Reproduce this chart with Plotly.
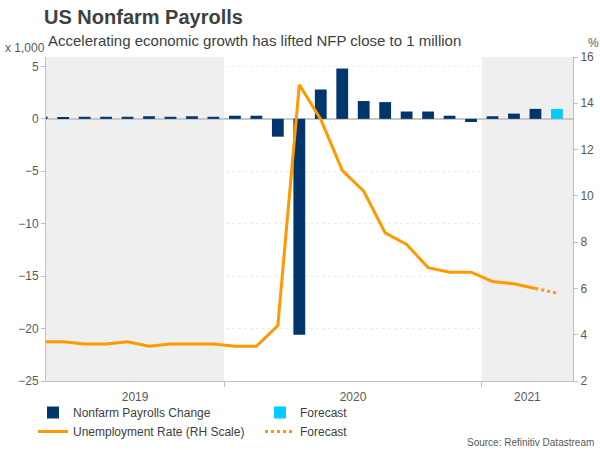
import plotly.graph_objects as go

# monthly data, Apr 2019 - Apr 2021 (last month = forecast)
months = ["Apr 19", "May 19", "Jun 19", "Jul 19", "Aug 19", "Sep 19", "Oct 19", "Nov 19", "Dec 19",
          "Jan 20", "Feb 20", "Mar 20", "Apr 20", "May 20", "Jun 20", "Jul 20", "Aug 20", "Sep 20",
          "Oct 20", "Nov 20", "Dec 20", "Jan 21", "Feb 21", "Mar 21", "Apr 21"]

# nonfarm payrolls change, thousands / 1,000
nfp = [0.2, 0.1, 0.2, 0.2, 0.2, 0.25, 0.2, 0.25, 0.2,
       0.3, 0.3, -1.7, -20.6, 2.8, 4.8, 1.7, 1.6, 0.7,
       0.7, 0.3, -0.3, 0.25, 0.5, 0.95]
nfp_forecast = [0.95]

# unemployment rate, %
unemp = [3.7, 3.7, 3.6, 3.6, 3.7, 3.5, 3.6, 3.6, 3.6,
         3.5, 3.5, 4.4, 14.8, 13.3, 11.1, 10.2, 8.4, 7.9,
         6.9, 6.7, 6.7, 6.3, 6.2, 6.0]
unemp_forecast = [6.0, 5.8]

years = ["2019", "2020", "2021"]

x_idx = list(range(len(months)))
n_act = len(nfp)

navy = "#00366c"
cyan = "#00ccff"
orange = "#ff9900"
grey_txt = "#595959"
axis_col = "#bfbfbf"

fig = go.Figure()

fig.add_trace(go.Bar(
    x=x_idx[:n_act], y=nfp, name="Nonfarm Payrolls Change",
    marker=dict(color=navy, line=dict(width=0)), width=0.55
))
fig.add_trace(go.Bar(
    x=x_idx[n_act:], y=nfp_forecast, name="Forecast",
    marker=dict(color=cyan, line=dict(width=0)), width=0.55
))
fig.add_trace(go.Scatter(
    x=x_idx[:len(unemp)], y=unemp, name="Unemployment Rate (RH Scale)",
    mode="lines", line=dict(color=orange, width=3), yaxis="y2"
))
fig.add_trace(go.Scatter(
    x=x_idx[len(unemp) - 1:], y=unemp_forecast, name="Forecast",
    mode="lines", line=dict(color=orange, width=3, dash="dot"), yaxis="y2"
))

# year boundaries (between Dec and Jan)
b1 = months.index("Jan 20") - 0.5
b2 = months.index("Jan 21") - 0.5
x_lo, x_hi = 0.2, 24.75

# shaded 2019 and 2021 blocks
for x0, x1 in [(x_lo, b1), (b2, x_hi)]:
    fig.add_shape(type="rect", xref="x", yref="paper", x0=x0, x1=x1, y0=0, y1=1,
                  fillcolor="#efefef", line=dict(width=0), layer="below")

# plot box in pixels: left 46, right 573, top 57, bottom 381
pw, ph = 527, 324

fig.update_layout(
    width=600, height=450,
    margin=dict(l=46, r=27, t=57, b=69, autoexpand=False),
    paper_bgcolor="white", plot_bgcolor="white",
    font=dict(family="Liberation Sans, Arial, sans-serif", size=12, color=grey_txt),
    barmode="overlay",
    title=dict(text="<b>US Nonfarm Payrolls</b>", x=44 / 600, xanchor="left",
               y=1 - 16.5 / 450, yanchor="middle",
               font=dict(size=20, color="#404040")),
    xaxis=dict(
        range=[x_lo, x_hi], automargin=False,
        tickmode="array",
        tickvals=[(x_lo + b1) / 2, (b1 + b2) / 2, (b2 + x_hi) / 2],
        ticktext=years,
        ticks="outside", ticklen=5, tickcolor="rgba(0,0,0,0)",
        showgrid=False, zeroline=False,
        showline=True, linecolor=axis_col, linewidth=1,
        minor=dict(tickmode="array", tickvals=[b1, b2], ticks="outside",
                   ticklen=5, tickcolor=axis_col, showgrid=False),
        tickfont=dict(size=12, color=grey_txt),
    ),
    yaxis=dict(
        range=[-25, 5.9], automargin=False,
        tickvals=[-25, -20, -15, -10, -5, 0, 5],
        showgrid=True, gridcolor="#ececec", griddash="dot", gridwidth=1,
        zeroline=True, zerolinecolor="#c8c8c8", zerolinewidth=2,
        showline=True, linecolor=axis_col, linewidth=1,
        ticks="outside", ticklen=4, tickcolor=axis_col,
        tickfont=dict(size=12, color=grey_txt),
    ),
    yaxis2=dict(
        range=[2, 16], dtick=2, automargin=False,
        overlaying="y", side="right",
        showgrid=False, zeroline=False,
        showline=True, linecolor=axis_col, linewidth=1,
        ticks="outside", ticklen=4, tickcolor=axis_col,
        tickfont=dict(size=12, color=grey_txt),
    ),
    legend=dict(
        orientation="h", xref="container", yref="container",
        x=33 / 600, xanchor="left", y=1 - 398 / 450, yanchor="top",
        entrywidth=182, entrywidthmode="pixels",
        font=dict(size=12, color="#404040"),
        bgcolor="rgba(0,0,0,0)", traceorder="normal",
    ),
    showlegend=True,
)

fig.add_annotation(text="Accelerating economic growth has lifted NFP close to 1 million",
                   xref="paper", yref="paper", x=0, y=(381 - 40) / ph,
                   xanchor="left", yanchor="middle", showarrow=False,
                   font=dict(size=15, color="#404040"))
fig.add_annotation(text="x 1,000", xref="paper", yref="paper",
                   x=-43 / pw, y=(381 - 48) / ph, xanchor="left", yanchor="middle",
                   showarrow=False, font=dict(size=12, color=grey_txt))
fig.add_annotation(text="%", xref="paper", yref="paper",
                   x=(586 - 46) / pw, y=(381 - 43) / ph, xanchor="left", yanchor="middle",
                   showarrow=False, font=dict(size=12, color=grey_txt))
fig.add_annotation(text="Source: Refinitiv Datastream", xref="paper", yref="paper",
                   x=(596 - 46) / pw, y=(381 - 442) / ph, xanchor="right", yanchor="middle",
                   showarrow=False, font=dict(size=10, color=grey_txt))

# page has a default 8px body margin; drop it so the figure sits at the window corner
fig.write_html("out.html", config={"displayModeBar": False},
               post_script="document.body.style.margin='0px';")
